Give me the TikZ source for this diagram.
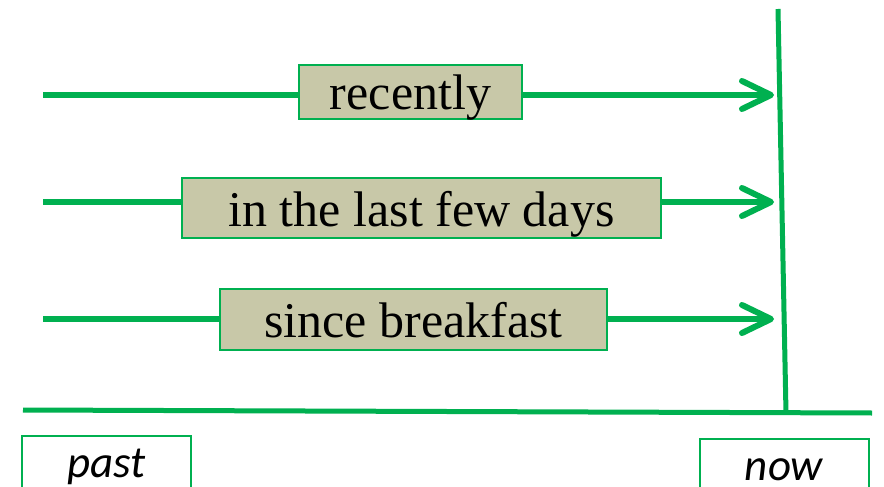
\documentclass[tikz,border=0pt]{standalone}
\usepackage{fontspec}
\setmainfont{Liberation Serif}
\newfontfamily\labelfont{Carlito}
\usetikzlibrary{arrows.meta}
\definecolor{tlgreen}{HTML}{00B050}
\definecolor{tltan}{HTML}{C8C8A8}
\tikzset{
  tline/.style={draw=tlgreen, line width=5pt},
  tarrow/.style={draw=tlgreen, line width=6pt},
  tarrowhead/.style={tarrow, -{Straight Barb[length=29pt,width=28pt,round]}},
  tbox/.style={draw=tlgreen, line width=2pt, fill=tltan, inner sep=0pt,
    font=\fontsize{50}{52}\selectfont, text height=40pt, text depth=4pt},
  lbox/.style={draw=tlgreen, line width=2pt, fill=white, inner sep=0pt,
    minimum width=169pt, minimum height=66pt, anchor=north,
    font=\labelfont\itshape\fontsize{45}{47}\selectfont, text height=27pt, text depth=11pt},
}
\begin{document}
\begin{tikzpicture}[x=1pt,y=-1pt]
\useasboundingbox (0,0) rectangle (884,487);
\clip (0,0) rectangle (884,487);
\fill[white] (0,0) rectangle (884,487);
% time axes
\coordinate (nowtop) at (778,9);
\coordinate (nowbot) at (786,413);
\coordinate (axl) at (23,410);
\coordinate (axr) at (872,413);
\draw[tline] (axl) -- (axr);
\draw[tline] (nowtop) -- (nowbot);
% arrow ends
\coordinate (s1) at (43,95);
\coordinate (t1) at (774,95);
\coordinate (s2) at (43,202);
\coordinate (t2) at (774,202);
\coordinate (s3) at (43,319);
\coordinate (t3) at (774,319);
% boxes
\node[tbox, minimum width=223pt, minimum height=54pt] (b1) at (410.5,92) {recently};
\node[tbox, minimum width=479pt, minimum height=60pt] (b2) at (421.5,208) {in the last few days};
\node[tbox, minimum width=387pt, minimum height=61pt] (b3) at (413.5,319.5) {since breakfast};
% arrows
\draw[tarrow] (s1) -- (s1 -| b1.west);
\draw[tarrowhead] (t1 -| b1.east) -- (t1);
\draw[tarrow] (s2) -- (s2 -| b2.west);
\draw[tarrowhead] (t2 -| b2.east) -- (t2);
\draw[tarrow] (s3) -- (s3 -| b3.west);
\draw[tarrowhead] (t3 -| b3.east) -- (t3);
% labels
\node[lbox] (past) at (106.5,435) {past};
\node[lbox] (now) at (784,438) {now};
\end{tikzpicture}
\end{document}
